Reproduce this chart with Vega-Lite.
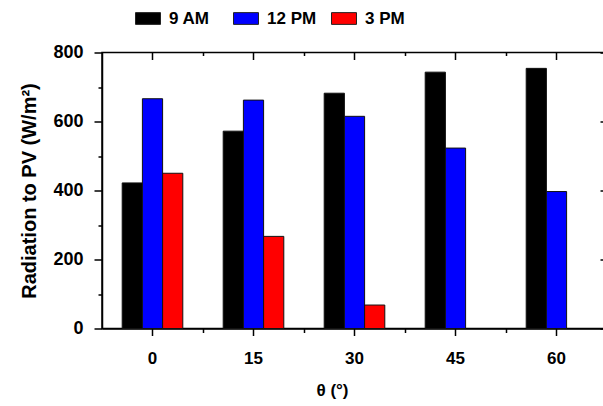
{
  "$schema": "https://vega.github.io/schema/vega-lite/v6.json",
  "width": 505,
  "height": 276,
  "autosize": "none",
  "padding": {"left": 102, "top": 52.5, "right": 0, "bottom": 78},
  "background": "white",
  "config": {
    "font": "Liberation Sans",
    "view": {"stroke": "black", "strokeWidth": 1.5},
    "axis": {"grid": false, "labelFont": "Liberation Sans", "titleFont": "Liberation Sans", "domainColor": "black", "tickColor": "black", "domainWidth": 1.5, "tickWidth": 1.5}
  },
  "data": {
    "values": [
      {"theta": "0", "time": "9 AM", "radiation": 422},
      {"theta": "0", "time": "12 PM", "radiation": 666},
      {"theta": "0", "time": "3 PM", "radiation": 450},
      {"theta": "15", "time": "9 AM", "radiation": 572},
      {"theta": "15", "time": "12 PM", "radiation": 662},
      {"theta": "15", "time": "3 PM", "radiation": 267},
      {"theta": "30", "time": "9 AM", "radiation": 682},
      {"theta": "30", "time": "12 PM", "radiation": 615},
      {"theta": "30", "time": "3 PM", "radiation": 68},
      {"theta": "45", "time": "9 AM", "radiation": 743},
      {"theta": "45", "time": "12 PM", "radiation": 523},
      {"theta": "60", "time": "9 AM", "radiation": 754},
      {"theta": "60", "time": "12 PM", "radiation": 397}
    ]
  },
  "layer": [
    {
      "mark": {"type": "bar", "stroke": "#111", "strokeWidth": 1},
      "encoding": {
        "x": {
          "field": "theta", "type": "nominal", "sort": ["0", "15", "30", "45", "60"],
          "scale": {"paddingInner": 0, "paddingOuter": 0},
          "axis": {"orient": "bottom", "labelAngle": 0, "tickSize": 7, "labelPadding": 15, "labelFontSize": 17, "labelFontWeight": "bold", "labelColor": "black",
                   "title": "θ (°)", "titleFontSize": 17, "titleFontWeight": "bold", "titleColor": "black", "titlePadding": 16, "titleX": 230}
        },
        "xOffset": {"field": "time", "type": "nominal", "sort": ["9 AM", "12 PM", "3 PM"], "scale": {"paddingInner": 0, "paddingOuter": 1}},
        "y": {
          "field": "radiation", "type": "quantitative",
          "scale": {"domain": [0, 800], "nice": false},
          "axis": {"orient": "left", "values": [0, 200, 400, 600, 800], "tickSize": 8, "labelPadding": 11, "labelFontSize": 18, "labelFontWeight": "bold", "labelColor": "black",
                   "title": "Radiation to PV (W/m²)", "titleFontSize": 20, "titleFontWeight": "bold", "titleColor": "black", "titlePadding": 13}
        },
        "color": {
          "field": "time", "type": "nominal", "sort": ["9 AM", "12 PM", "3 PM"],
          "scale": {"domain": ["9 AM", "12 PM", "3 PM"], "range": ["#000000", "#0000ff", "#ff0000"]},
          "legend": {
            "orient": "none", "legendX": 33, "legendY": -47, "direction": "horizontal", "title": null,
            "symbolType": "M-1,-0.47H1V0.47H-1Z", "symbolSize": 625, "symbolStrokeColor": "#222", "symbolStrokeWidth": 1,
            "labelFontSize": 17, "labelFontWeight": "bold", "labelColor": "black", "labelOffset": 8,
            "columnPadding": 12, "gridAlign": "all"
          }
        }
      }
    },
    {
      "mark": {"type": "bar", "opacity": 0},
      "encoding": {
        "x": {"field": "theta", "type": "nominal", "sort": ["0", "15", "30", "45", "60"],
              "axis": {"orient": "bottom", "bandPosition": 1, "tickSize": 4, "labels": false, "domain": false, "title": null}},
        "y": {"field": "radiation", "type": "quantitative",
              "axis": {"orient": "left", "values": [100, 300, 500, 700], "tickSize": 4, "labels": false, "domain": false, "title": null}}
      }
    },
    {
      "mark": {"type": "bar", "opacity": 0},
      "encoding": {
        "x": {"field": "theta", "type": "nominal", "sort": ["0", "15", "30", "45", "60"],
              "axis": {"orient": "top", "offset": -7, "tickSize": 7, "labels": false, "domain": false, "title": null}},
        "y": {"field": "radiation", "type": "quantitative",
              "axis": {"orient": "right", "offset": -7, "values": [0, 200, 400, 600, 800], "tickSize": 7, "labels": false, "domain": false, "title": null}}
      }
    },
    {
      "mark": {"type": "bar", "opacity": 0},
      "encoding": {
        "x": {"field": "theta", "type": "nominal", "sort": ["0", "15", "30", "45", "60"],
              "axis": {"orient": "top", "offset": -3, "bandPosition": 1, "tickSize": 3, "labels": false, "domain": false, "title": null}},
        "y": {"field": "radiation", "type": "quantitative",
              "axis": {"orient": "right", "offset": -4, "values": [100, 300, 500, 700], "tickSize": 4, "tickColor": "#bbb", "labels": false, "domain": false, "title": null}}
      }
    }
  ],
  "resolve": {"axis": {"x": "independent", "y": "independent"}}
}
